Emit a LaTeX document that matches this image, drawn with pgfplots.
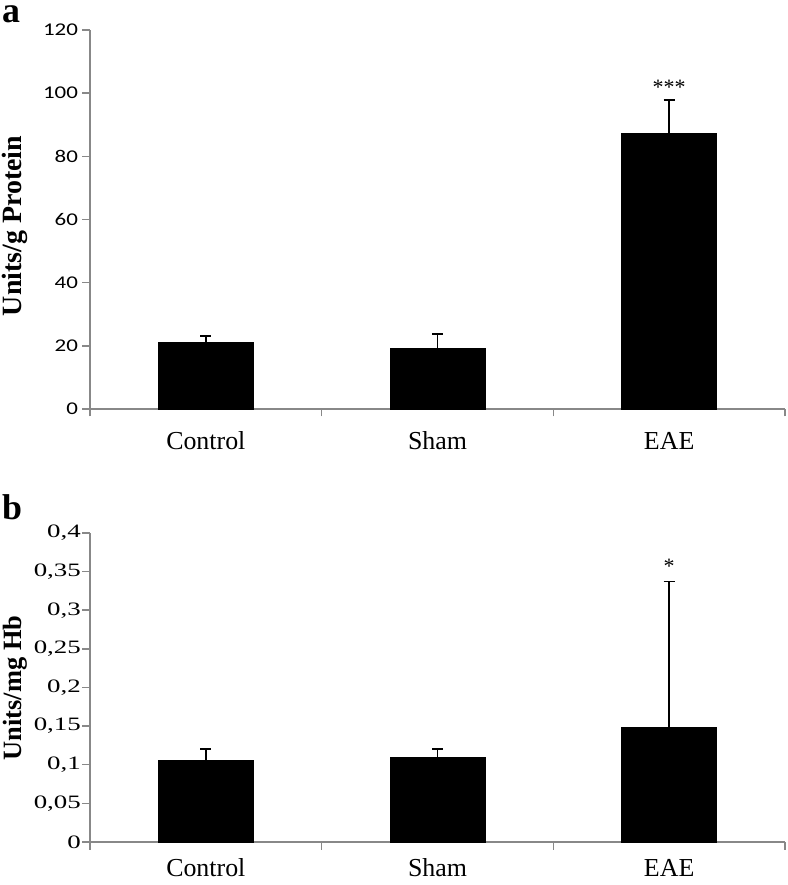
\documentclass[border=0pt]{standalone}
\usepackage{pgfplots}
\pgfplotsset{compat=1.18}
\usepackage{fontspec}
\setmainfont{Liberation Serif}
\newfontfamily\calibri{Carlito}
\definecolor{axgray}{HTML}{888888}
\begin{document}
\begin{tikzpicture}
\useasboundingbox (0,0) rectangle (788bp,885bp);
\pgfplotsset{
 mystyle/.style={
  width=695bp, scale only axis, xmin=0, xmax=3, ymin=0,
  axis x line*=bottom, axis y line*=left,
  axis line style={axgray, line width=1.5bp},
  tick style={axgray, line width=1.5bp},
  tick align=outside, major tick length=7.5bp,
  xtick={0,1,2,3}, xticklabels={},
  extra x ticks={0.5,1.5,2.5}, extra x tick labels={Control,Sham,EAE},
  ybar, bar width=95bp,
  clip=false, /pgf/number format/assume math mode=true,
  error bars/y dir=plus, error bars/y explicit,
  error bars/error bar style={black, line width=1.6bp},
  error bars/error mark options={rotate=90, mark size=5.5bp, line width=1.6bp, black},
 }
}
% panel a
\begin{axis}[mystyle, at={(90bp,476bp)}, anchor=south west, height=379bp,
  ymax=120, ytick={0,20,40,60,80,100,120},
  extra x tick style={major tick length=0pt, tick label style={font=\fontsize{26}{28}\selectfont, yshift=-19.5bp}},
  yticklabel style={font=\calibri\fontsize{18}{20}\selectfont, xscale=1.28}]
\addplot[fill=black, draw=black] coordinates {(0.5,21.1) +- (0,2.0) (1.5,19.1) +- (0,4.7) (2.5,87.3) +- (0,10.5)};
\node[anchor=base, font=\fontsize{22}{22}\selectfont] at (axis cs:2.5,99.5) {***};
\end{axis}
% panel b
\begin{axis}[mystyle, at={(90bp,43bp)}, anchor=south west, height=309bp,
  ymax=0.4, ytick={0,0.05,0.1,0.15,0.2,0.25,0.3,0.35,0.4},
  extra x tick style={major tick length=0pt, tick label style={font=\fontsize{26}{28}\selectfont, yshift=-13.5bp}},
  yticklabel style={font=\fontsize{19}{21}\selectfont, xscale=1.42, inner xsep=1bp, /pgf/number format/.cd, use comma, fixed, precision=2}]
\addplot[fill=black, draw=black] coordinates {(0.5,0.106) +- (0,0.014) (1.5,0.110) +- (0,0.010) (2.5,0.148) +- (0,0.189)};
\node[anchor=base, font=\fontsize{22}{22}\selectfont] at (axis cs:2.5,0.347) {*};
\end{axis}
\node[rotate=90, font=\bfseries\fontsize{28}{30}\selectfont] at (15bp,659bp) {Units/g Protein};
\node[rotate=90, font=\bfseries\fontsize{26.5}{28}\selectfont] at (15bp,197bp) {Units/mg Hb};
\node[anchor=base west, inner sep=0pt, font=\bfseries\fontsize{36}{36}\selectfont] at (2bp,862bp) {a};
\node[anchor=base west, inner sep=0pt, font=\bfseries\fontsize{36}{36}\selectfont] at (2bp,365bp) {b};
\end{tikzpicture}
\end{document}
